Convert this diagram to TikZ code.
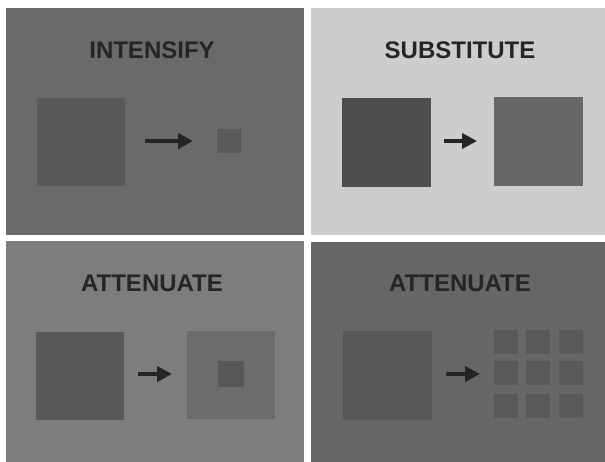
\documentclass[tikz,border=0pt]{standalone}
\usepackage{fontspec}
\setmainfont{Liberation Sans}
\usetikzlibrary{arrows.meta}
\definecolor{pA}{HTML}{6A6A6C}
\definecolor{pB}{HTML}{CDCDCD}
\definecolor{pC}{HTML}{7D7D80}
\definecolor{pD}{HTML}{666669}
\definecolor{sqdark}{HTML}{58585A}
\definecolor{sqdarker}{HTML}{4E4E50}
\definecolor{sqmid}{HTML}{676769}
\definecolor{sqlight}{HTML}{6C6C6F}
\definecolor{ink}{HTML}{252527}
\tikzset{
  panel/.style={inner sep=0pt, outer sep=0pt},
  sq/.style={inner sep=0pt, outer sep=0pt, minimum width=#1, minimum height=#1},
  title/.style={font=\fontsize{24}{24}\selectfont\bfseries, text=ink, inner sep=0pt, anchor=base},
  conn/.style={draw=ink, line width=4.5pt, -{Triangle[length=15pt,width=15pt]}},
}
\begin{document}
\begin{tikzpicture}[x=1pt,y=-1pt]
\useasboundingbox (0,0) rectangle (605,462);
\fill[white] (0,0) rectangle (605,462);
% panels
\fill[pA] (6,8) rectangle (304,235);
\fill[pB] (311,8) rectangle (605,235);
\fill[pC] (6,241) rectangle (304,462);
\fill[pD] (311,242) rectangle (605,462);
% titles
\node[title] (t1) at (152,59) {INTENSIFY};
\node[title] (t2) at (460,59) {SUBSTITUTE};
\node[title] (t3) at (152,292) {ATTENUATE};
\node[title] (t4) at (460,291) {ATTENUATE};
% panel 1
\node[sq=88pt, fill=sqdark] (a1) at (80.5,142.5) {};
\node[sq=24pt, fill=sqdark!90!pA] (b1) at (229,141) {};
\coordinate (s1) at (145,141);
\coordinate (e1) at (193,141);
\draw[conn] (s1) -- (e1);
% panel 2
\node[sq=89pt, fill=sqdarker] (a2) at (386.5,142.5) {};
\node[sq=89pt, fill=sqmid] (b2) at (538,142) {};
\coordinate (s2) at (444,141);
\coordinate (e2) at (477,141);
\draw[conn] (s2) -- (e2);
% panel 3
\node[sq=88pt, fill=sqdark] (a3) at (80,375.5) {};
\node[sq=88pt, fill=sqlight] (b3) at (231,375) {};
\node[sq=26pt, fill=sqdark] (c3) at (230.5,373.5) {};
\coordinate (s3) at (138,374);
\coordinate (e3) at (172,374);
\draw[conn] (s3) -- (e3);
% panel 4
\node[sq=89pt, fill=sqdark] (a4) at (387.5,375.5) {};
\coordinate (s4) at (446,374);
\coordinate (e4) at (480,374);
\draw[conn] (s4) -- (e4);
\foreach \i/\x in {1/506,2/538,3/571}{
  \foreach \j/\y in {1/342,2/373,3/406}{
    \node[sq=24pt, fill=sqdark!92!pD] (g\i\j) at (\x,\y) {};
  }
}
\end{tikzpicture}
\end{document}
